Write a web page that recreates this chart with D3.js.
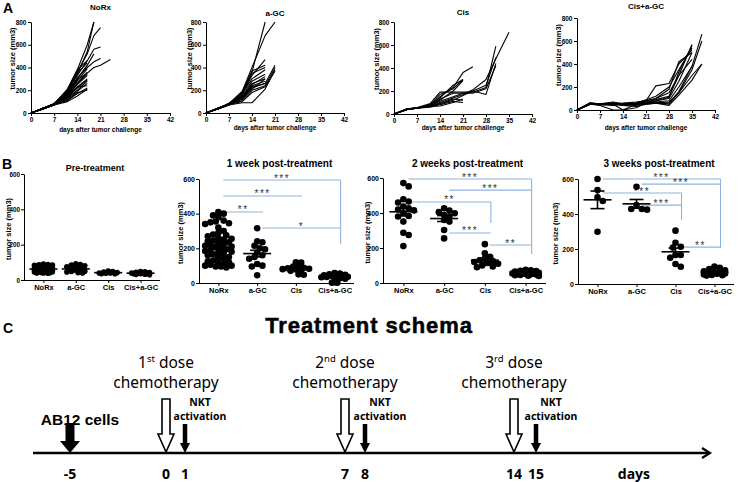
<!DOCTYPE html>
<html><head><meta charset="utf-8">
<script src="https://cdn.jsdelivr.net/npm/d3@7"></script>
<style>body{margin:0;background:#fff}svg{display:block}</style>
</head><body>
<svg id="c" width="738" height="482"></svg>
<script>
// ---------------- DATA ----------------
const groups = ["NoRx", "a-GC", "Cis", "Cis+a-GC"];
const dayTicks = [0, 7, 14, 21, 28, 35, 42];
const sizeTicksA = [0, 200, 400, 600, 800];
const sizeTicksB = [0, 200, 400, 600];

// Panel A: tumor growth per mouse (values at the group's measurement days)
const daysNoRx = [0, 4, 7, 11, 14, 17, 19, 21, 24];
const growthNoRx = [
  [0, 45, 80, 210, 380, 600, 800],
  [0, 40, 75, 190, 340, 540, 800],
  [0, 45, 80, 200, 360, 520, 680, 750],
  [0, 45, 85, 190, 330, 460, 560, 580],
  [0, 40, 75, 170, 300, 420, 520],
  [0, 40, 75, 180, 310, 400, 450, 480],
  [0, 45, 80, 170, 290, 350, 400, 420, 470],
  [0, 45, 80, 200, 380, 460],
  [0, 40, 75, 180, 350, 440],
  [0, 45, 80, 170, 300, 420],
  [0, 45, 80, 160, 280, 390],
  [0, 40, 70, 150, 260, 360],
  [0, 45, 80, 160, 250, 330],
  [0, 40, 75, 150, 230, 300],
  [0, 40, 70, 140, 220, 290],
  [0, 45, 75, 130, 200, 280],
  [0, 40, 70, 120, 190, 260],
  [0, 45, 80, 110, 170, 220],
  [0, 40, 70, 100, 150, 210],
  [0, 45, 75, 130, 230, 240],
  [0, 40, 75, 110, 180, 200],
  [0, 45, 80, 140, 260, 340]
];
const daysAGC = [0, 4, 7, 11, 14, 18, 21];
const growthAGC = [
  [0, 45, 80, 180, 360, 800],
  [0, 45, 85, 190, 400, 680, 800],
  [0, 40, 80, 170, 330, 470],
  [0, 45, 80, 180, 370, 420],
  [0, 40, 75, 160, 350, 400],
  [0, 45, 85, 170, 300, 380],
  [0, 40, 75, 150, 280, 340],
  [0, 45, 80, 140, 260, 300],
  [0, 40, 70, 130, 240, 280],
  [0, 45, 75, 120, 220, 260, 420],
  [0, 40, 70, 110, 200, 240, 400],
  [0, 45, 80, 100, 180, 230, 370],
  [0, 40, 70, 90, 90, 210, 380],
  [0, 45, 80, 130, 250, 320],
  [0, 40, 75, 140, 230, 260],
  [0, 45, 80, 150, 210, 300]
];
const daysCis = [0, 4, 7, 11, 14, 18, 21, 24, 28, 31, 35];
const growthCis = [
  [0, 40, 50, 70, 150, 230, 360, 410],
  [0, 40, 55, 80, 140, 250, 300],
  [0, 45, 50, 75, 120, 200, 290],
  [0, 40, 55, 90, 190, 190, 190, 190, 230, 590],
  [0, 40, 50, 70, 100, 140, 170, 210, 300, 480, 710],
  [0, 45, 55, 75, 110, 150, 180, 200, 250, 490],
  [0, 40, 50, 65, 90, 120, 160, 200, 170, 440],
  [0, 40, 55, 80, 130, 180, 180, 180, 220, 420],
  [0, 40, 50, 60, 80, 110, 100],
  [0, 45, 55, 70, 90, 130, 120],
  [0, 40, 50, 80, 170, 220, 300],
  [0, 40, 55, 65, 70, 100, 130]
];
const daysCisAGC = [0, 4, 7, 11, 14, 18, 21, 24, 28, 31, 35, 38];
const growthCisAGC = [
  [0, 60, 50, 50, 40, 50, 80, 210, 230, 400, 520],
  [0, 55, 50, 55, 50, 60, 70, 90, 120, 300, 570],
  [0, 50, 45, 40, 50, 55, 60, 80, 100, 250, 500],
  [0, 60, 55, 60, 55, 50, 60, 70, 80, 200, 380, 660],
  [0, 55, 50, 50, 45, 40, 50, 60, 70, 150, 350, 600],
  [0, 50, 40, 0, 0, 50, 80, 100, 150, 300, 440],
  [0, 60, 50, 45, 50, 60, 90, 120, 200, 350, 540],
  [0, 55, 45, 50, 0, 20, 60, 70, 50, 150, 300, 400],
  [0, 50, 50, 55, 60, 70, 80, 100, 180, 420, 500],
  [0, 60, 55, 70, 55, 45, 55, 60, 60, 160, 380],
  [0, 50, 45, 50, 50, 60, 70, 80, 110, 330, 560],
  [0, 55, 50, 60, 40, 30, 50, 60, 40, 130, 260, 400]
];

// Panel B: tumor size per mouse, in group order
const scatterTitles = ["Pre-treatment", "1 week post-treatment", "2 weeks post-treatment", "3 weeks post-treatment"];
const preTreatment = [
  [90,88,86,85,83,80,78,77,75,73,72,70,70,68,67,65,64,63,62,60,60,58,57,55,55,53,52,50,50,48,47,45,45,43,42,40,40,38],
  [92,88,85,80,75,70,65,60,58,55,52,50,48,45,42,40],
  [50,48,45,42,40,40,38,36,35],
  [48,46,44,42,40,40,38,38,36,35,33,32,30]
];
const week1 = [
  [410,400,390,380,360,355,350,345,340,320,300,290,280,275,270,260,255,250,245,240,235,230,225,220,215,210,205,200,195,190,185,180,175,170,165,160,150,145,140,130,125,120,115,110,105,100,100,95,95,90],
  [316,240,235,215,200,195,175,160,150,140,110,100,95,45],
  [120,118,95,90,88,85,82,80,78,75,70,50,48],
  [58,55,50,48,45,42,40,38,36,35,33,30,28,25,2,2]
];
const week2 = [
  [571,552,479,466,460,437,427,420,415,400,383,380,351,287,274,211],
  [427,414,405,399,389,380,360,351,303,255],
  [222,170,150,140,130,125,120,115,110,100,95,90],
  [75,72,70,68,65,62,60,58,56,55,53,52,50,48,46,45,42,40]
];
const week3 = [
  [600,537,495,474,299],
  [556,451,429,429,425],
  [305,236,213,208,166,166,150,114,99],
  [100,92,85,78,72,68,65,62,60,58,55,52,50,48]
];
// significance brackets: [from, to, level, drop-to level, label]
const brackets1 = [
  ["NoRx", "Cis+a-GC", 594, 225, "***"],
  ["NoRx", "Cis", 502, null, "***"],
  ["NoRx", "a-GC", 410, null, "**"],
  ["a-GC", "Cis+a-GC", 317, null, "*"]
];
const brackets2 = [
  ["NoRx", "Cis+a-GC", 594, 166, "***"],
  ["a-GC", "Cis+a-GC", 531, null, "***"],
  ["NoRx", "Cis", 463, 343, "**"],
  ["a-GC", "Cis", 286, null, "***"],
  ["Cis", "Cis+a-GC", 217, null, "**"]
];
const brackets3 = [
  ["NoRx", "Cis+a-GC", 600, 206, "***"],
  ["a-GC", "Cis+a-GC", 571, null, "***"],
  ["NoRx", "Cis", 520, 366, "***"],
  ["a-GC", "Cis", 451, null, "***"],
  ["Cis", "Cis+a-GC", 211, null, "**"]
];

// Panel C: treatment schema
const injectionDay = -5;
const doseDays = [0, 7, 14];
const doseNumbers = ["1", "2", "3"];
const doseSuffix = ["st", "nd", "rd"];
const nktDays = [1, 8, 15];
const scheduleTicks = [-5, 0, 1, 7, 8, 14, 15];

// ---------------- DRAWING ----------------
const svg = d3.select("#c");
const F = "'Liberation Sans', Arial, sans-serif";
const CF = "'Noto Sans', 'Open Sans', sans-serif";

function styleAxis(g, fs) {
  g.select(".domain").attr("stroke", "#000").attr("stroke-width", 1);
  g.selectAll(".tick line").attr("stroke", "#000").attr("stroke-width", 1);
  g.selectAll(".tick text").attr("font-family", F).attr("font-weight", "bold")
    .attr("font-size", fs).attr("fill", "#000");
}

// panel letters
[["A", 3, 13], ["B", 2, 169], ["C", 3, 333]].forEach(([t, x, y]) =>
  svg.append("text").attr("x", x).attr("y", y).text(t)
    .attr("font-family", F).attr("font-weight", "bold").attr("font-size", 14));

// ---- Panel A
const aFrames = [
  {x0: 31, x1: 170, y0: 113, y1: 22, ty: 10, lx: 12, xly: 132},
  {x0: 206, x1: 344, y0: 113, y1: 22, ty: 16, lx: 189, xly: 130},
  {x0: 394, x1: 532, y0: 114, y1: 22, ty: 15, lx: 376, xly: 130},
  {x0: 577, x1: 715, y0: 110, y1: 18, ty: 9, lx: 558, xly: 130}
];
const aDays = [daysNoRx, daysAGC, daysCis, daysCisAGC];
const aSeries = [growthNoRx, growthAGC, growthCis, growthCisAGC];

aFrames.forEach((f, i) => {
  const x = d3.scaleLinear().domain([0, 42]).range([f.x0, f.x1]);
  const y = d3.scaleLinear().domain([0, 800]).range([f.y0, f.y1]);
  const g = svg.append("g");
  const days = aDays[i];
  const line = d3.line().x((d, j) => x(days[j])).y(d => y(d));
  g.selectAll("path.m").data(aSeries[i]).join("path").attr("class", "m")
    .attr("d", line).attr("fill", "none").attr("stroke", "#000")
    .attr("stroke-width", 1.1).attr("stroke-linejoin", "round");
  const xa = g.append("g").attr("transform", `translate(0,${f.y0})`)
    .call(d3.axisBottom(x).tickValues(dayTicks).tickSize(3).tickPadding(1.5).tickSizeOuter(0));
  styleAxis(xa, 6.5);
  const ya = g.append("g").attr("transform", `translate(${f.x0},0)`)
    .call(d3.axisLeft(y).tickValues(sizeTicksA).tickSize(3).tickPadding(1.5).tickSizeOuter(0));
  styleAxis(ya, 6.5);
  g.append("text").attr("x", (f.x0 + f.x1) / 2).attr("y", f.ty).text(groups[i])
    .attr("text-anchor", "middle").attr("font-family", F).attr("font-weight", "bold").attr("font-size", 8);
  g.append("text").attr("x", (f.x0 + f.x1) / 2).attr("y", f.xly).text("days after tumor challenge")
    .attr("text-anchor", "middle").attr("font-family", F).attr("font-weight", "bold").attr("font-size", 6.5);
  const cy = (f.y0 + f.y1) / 2 - 9;
  g.append("text").attr("transform", `translate(${f.lx},${cy}) rotate(-90)`).attr("dy", "0.35em")
    .text("tumor size (mm3)").attr("text-anchor", "middle").attr("font-family", F)
    .attr("font-weight", "bold").attr("font-size", 7.5);
});

// ---- Panel B
const bFrames = [
  {x0: 24, x1: 160, pad: 0.6, y0: 280, y1: 174, ty: 171, tfs: 9, lx: 8, r: 2.8, w: 10, tfsTick: 6.3, data: preTreatment, br: []},
  {x0: 199, x1: 354, pad: 0.5, y0: 283, y1: 179, ty: 167, tfs: 10, lx: 180, r: 3.3, w: 15, tfsTick: 7, data: week1, br: brackets1},
  {x0: 383, x1: 546, pad: 0.5, y0: 283, y1: 178, ty: 167, tfs: 10, lx: 367, r: 3.3, w: 15, tfsTick: 7, data: week2, br: brackets2},
  {x0: 578, x1: 734, pad: 0.5, y0: 284, y1: 179, ty: 167, tfs: 10, lx: 555, r: 3.3, w: 13, tfsTick: 7, data: week3, br: brackets3}
];

// deterministic scatter-dot placement (GraphPad-like), bounded width
function swarm(values, cx, y, r, w) {
  const pts = [];
  const sorted = values.map(v => ({v, y: y(v)})).sort((a, b) => a.y - b.y);
  const minD = r * 1.5, step = r * 0.8;
  const offs = [0];
  for (let k = 1; k * step <= w; k++) { offs.push(k * step, -k * step); }
  for (const p of sorted) {
    let best = cx, bestD = -1, chosen = null;
    for (const o of offs) {
      const x = cx + o;
      const d = pts.length ? d3.min(pts, q => Math.hypot(q.x - x, q.y - p.y)) : Infinity;
      if (d >= minD) { chosen = x; break; }
      if (d > bestD) { bestD = d; best = x; }
    }
    pts.push({x: chosen !== null ? chosen : best, y: p.y, v: p.v});
  }
  return pts;
}

bFrames.forEach((f, i) => {
  const x = d3.scalePoint().domain(groups).range([f.x0, f.x1]).padding(f.pad);
  const y = d3.scaleLinear().domain([0, 600]).range([f.y0, f.y1]);
  const g = svg.append("g");

  // brackets
  const blue = "#8fb3df";
  f.br.forEach(([a, b, lv, drop, lab]) => {
    const xs = x(a) + 5, xe = x(b) + 6, yy = y(lv);
    g.append("line").attr("x1", xs).attr("x2", xe).attr("y1", yy).attr("y2", yy)
      .attr("stroke", blue).attr("stroke-width", 1.1);
    if (drop !== null) g.append("line").attr("x1", xe).attr("x2", xe).attr("y1", yy).attr("y2", y(drop))
      .attr("stroke", blue).attr("stroke-width", 1.1);
    g.append("text").attr("x", (xs + xe) / 2).attr("y", yy + 1.5).text(lab)
      .attr("text-anchor", "middle").attr("font-family", F).attr("font-size", 10)
      .attr("letter-spacing", 1.5).attr("fill", "#333");
  });

  f.data.forEach((vals, k) => {
    const cx = x(groups[k]);
    const pts = swarm(vals, cx, y, f.r, f.w);
    g.selectAll(null).data(pts).join("circle").attr("cx", d => d.x).attr("cy", d => d.y)
      .attr("r", f.r).attr("fill", "#000");
    const m = d3.mean(vals), se = d3.deviation(vals) / Math.sqrt(vals.length);
    const mw = 14, cw = 7;
    g.append("line").attr("x1", cx - mw).attr("x2", cx + mw).attr("y1", y(m)).attr("y2", y(m))
      .attr("stroke", "#000").attr("stroke-width", 1.6);
    g.append("line").attr("x1", cx).attr("x2", cx).attr("y1", y(m - se)).attr("y2", y(m + se))
      .attr("stroke", "#000").attr("stroke-width", 1.6);
    [m - se, m + se].forEach(v => g.append("line").attr("x1", cx - cw).attr("x2", cx + cw)
      .attr("y1", y(v)).attr("y2", y(v)).attr("stroke", "#000").attr("stroke-width", 1.6));
  });

  const xa = g.append("g").attr("transform", `translate(0,${f.y0})`)
    .call(d3.axisBottom(x).tickSize(3).tickPadding(2).tickSizeOuter(0));
  styleAxis(xa, 7.5);
  xa.select(".domain").attr("d", `M${f.x0},0.5H${f.x1}`);
  const ya = g.append("g").attr("transform", `translate(${f.x0},0)`)
    .call(d3.axisLeft(y).tickValues(sizeTicksB).tickSize(3).tickPadding(1).tickSizeOuter(0));
  styleAxis(ya, f.tfsTick);
  g.append("text").attr("x", (f.x0 + f.x1) / 2 + 3).attr("y", f.ty).text(scatterTitles[i])
    .attr("text-anchor", "middle").attr("font-family", F).attr("font-weight", "bold").attr("font-size", f.tfs);
  const cy = (f.y0 + f.y1) / 2 + 2;
  g.append("text").attr("transform", `translate(${f.lx},${cy}) rotate(-90)`).attr("dy", "0.35em")
    .text("tumor size (mm3)").attr("text-anchor", "middle").attr("font-family", F)
    .attr("font-weight", "bold").attr("font-size", 7.5);
});

// ---- Panel C
const xC = d3.scaleLinear().domain([-5, 0, 1, 7, 8, 14, 15, 19, 22])
  .range([70, 166, 185, 345, 365, 514, 536, 634, 710]);
const lineY = 453;
const c = svg.append("g");

c.append("text").attr("x", 369).attr("y", 333).text("Treatment schema")
  .attr("text-anchor", "middle").attr("font-family", F).attr("font-weight", "bold")
  .attr("font-size", 22).attr("letter-spacing", 0.9).attr("stroke", "#000").attr("stroke-width", 0.5);

function blockArrow(cx, top, tip, sw, hw, hh) {
  return `M${cx - sw / 2},${top}H${cx + sw / 2}V${tip - hh}H${cx + hw / 2}L${cx},${tip}L${cx - hw / 2},${tip - hh}H${cx - sw / 2}Z`;
}

// AB12 injection
c.append("path").attr("d", blockArrow(xC(injectionDay), 423, lineY, 9, 20, 12)).attr("fill", "#000");
c.append("text").attr("x", xC(injectionDay) + 10).attr("y", 425).text("AB12 cells")
  .attr("text-anchor", "middle").attr("font-family", F).attr("font-weight", "bold").attr("font-size", 15.5);

// chemotherapy doses
doseDays.forEach((d, i) => {
  c.append("path").attr("d", blockArrow(xC(d), 399, lineY - 1, 8, 16, 18))
    .attr("fill", "#fff").attr("stroke", "#000").attr("stroke-width", 1.6);
  const t = c.append("text").attr("x", xC(d)).attr("y", 368).attr("text-anchor", "middle")
    .attr("font-family", CF).attr("font-size", 15.5).attr("fill", "#000");
  t.append("tspan").text(doseNumbers[i]);
  t.append("tspan").text(doseSuffix[i]).attr("font-size", 9.5).attr("dy", -6);
  t.append("tspan").text(" dose").attr("dy", 6);
  c.append("text").attr("x", xC(d)).attr("y", 388).text("chemotherapy").attr("text-anchor", "middle")
    .attr("font-family", CF).attr("font-size", 15.5).attr("fill", "#000");
});

// NKT activation
nktDays.forEach(d => {
  c.append("path").attr("d", blockArrow(xC(d), 424, lineY, 4.5, 10, 10)).attr("fill", "#000");
  [["NKT", 406], ["activation", 420]].forEach(([s, yy]) =>
    c.append("text").attr("x", xC(d) + 15).attr("y", yy).text(s).attr("text-anchor", "middle")
      .attr("font-family", CF).attr("font-weight", "bold").attr("font-size", 10.5).attr("fill", "#000"));
});

// timeline
c.append("line").attr("x1", 33).attr("x2", xC(22) - 1).attr("y1", lineY).attr("y2", lineY)
  .attr("stroke", "#000").attr("stroke-width", 2.6);
c.append("path").attr("d", `M${xC(22) - 8},${lineY - 5}L${xC(22)},${lineY}L${xC(22) - 8},${lineY + 5}`)
  .attr("fill", "none").attr("stroke", "#000").attr("stroke-width", 2.2);

scheduleTicks.forEach(d => c.append("text").attr("x", xC(d)).attr("y", 479).text(d)
  .attr("text-anchor", "middle").attr("font-family", CF).attr("font-weight", "bold").attr("font-size", 14));
c.append("text").attr("x", xC(19)).attr("y", 479).text("days").attr("text-anchor", "middle")
  .attr("font-family", CF).attr("font-weight", "bold").attr("font-size", 14);
</script>
</body></html>
